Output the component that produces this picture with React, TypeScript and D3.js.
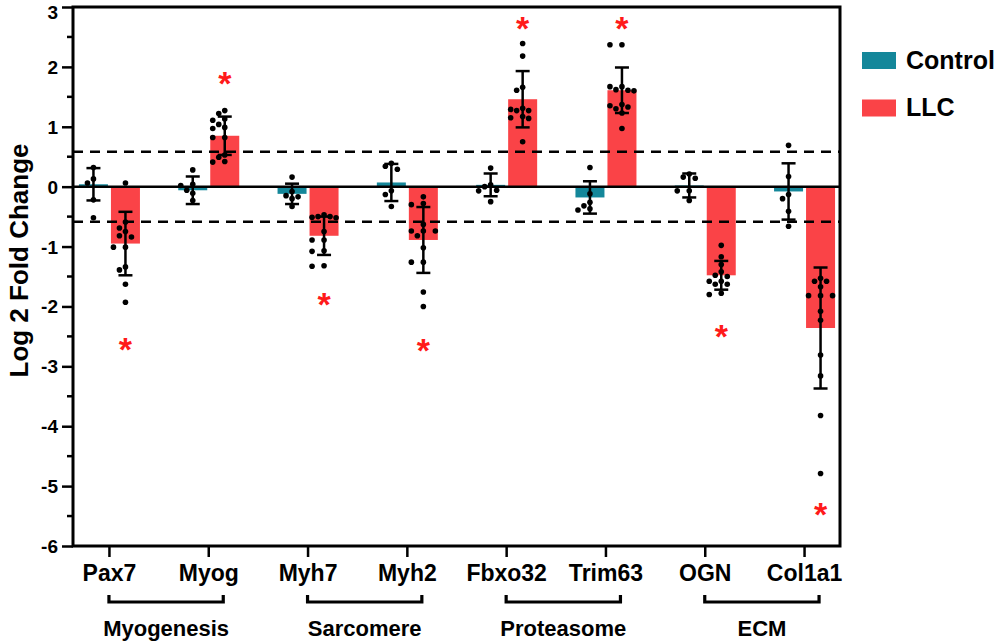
import React, { useEffect, useRef } from "react";
import * as d3 from "d3";

// genes on the x axis, with the functional group brackets under them
const genes = ["Pax7", "Myog", "Myh7", "Myh2", "Fbxo32", "Trim63", "OGN", "Col1a1"];
const groupNames = ["Myogenesis", "Sarcomere", "Proteasome", "ECM"];
const groupSpans = [[0, 1], [2, 3], [4, 5], [6, 7]];

const controlMean = [0.04, -0.06, -0.12, 0.07, 0.03, -0.18, 0.02, -0.08];
const controlSD = [0.27, 0.23, 0.17, 0.31, 0.19, 0.27, 0.2, 0.47];
const llcMean = [-0.95, 0.85, -0.82, -0.89, 1.46, 1.61, -1.48, -2.36];
const llcSD = [0.53, 0.32, 0.32, 0.55, 0.47, 0.38, 0.24, 1.01];

const controlDots = [
  [0.32, 0.13, 0.06, -0.22, -0.52],
  [0.28, 0.04, 0.02, -0.06, -0.11, -0.23],
  [0.16, -0.08, -0.15, -0.17, -0.2, -0.33],
  [0.39, 0.34, 0.29, -0.07, -0.13, -0.33],
  [0.31, 0.03, 0.0, -0.06, -0.07, -0.25],
  [0.32, -0.12, -0.26, -0.32, -0.37, -0.39],
  [0.21, 0.16, 0.14, -0.07, -0.07, -0.23],
  [0.69, 0.17, -0.13, -0.2, -0.41, -0.66],
];
const llcDots = [
  [0.06, -0.59, -0.69, -0.75, -0.82, -0.84, -1.01, -1.01, -1.34, -1.39, -1.63, -1.93],
  [1.27, 1.22, 1.13, 1.11, 1.04, 0.99, 0.97, 0.82, 0.82, 0.53, 0.49, 0.42, 0.41],
  [-0.47, -0.5, -0.5, -0.51, -0.52, -0.75, -0.89, -0.89, -1.07, -1.08, -1.32, -1.33],
  [-0.17, -0.28, -0.3, -0.63, -0.74, -0.74, -0.74, -0.82, -1.02, -1.26, -1.26, -1.76, -2.0],
  [2.39, 2.18, 1.66, 1.61, 1.31, 1.29, 1.27, 1.27, 1.17, 1.15, 1.14, 0.75],
  [2.37, 2.37, 1.67, 1.67, 1.62, 1.61, 1.6, 1.37, 1.35, 1.33, 1.3, 1.23, 0.97],
  [-0.98, -1.17, -1.3, -1.42, -1.48, -1.5, -1.58, -1.58, -1.63, -1.63, -1.78, -1.8],
  [-1.53, -1.58, -1.58, -1.67, -1.82, -1.82, -1.82, -2.08, -2.23, -2.81, -3.16, -3.82, -4.79],
];
// where the red significance stars sit (y value)
const starY = [-2.6, 1.85, -1.84, -2.61, 2.76, 2.76, -2.38, -5.35];

const seriesNames = ["Control", "LLC"];
const seriesColors = ["#14879a", "#fa4347"];
const threshold = Math.log2(1.5);
const yTicks = d3.range(-6, 4, 1);

const FONT = "Arial, 'Liberation Sans', sans-serif";

// simple beeswarm: nearest free horizontal slot for each dot
function swarm(values: number[], y: (v: number) => number) {
  const step = 6;
  const minD = 6.2;
  const slots = [0, -1, 1, -2, 2].map((k) => k * step);
  const placed: { x: number; y: number }[] = [];
  const sorted = [...values].sort((a, b) => b - a);
  sorted.forEach((v) => {
    const py = y(v);
    let best = slots[0];
    let bestGap = -Infinity;
    for (const s of slots) {
      const gap = d3.min(placed, (p) => Math.hypot(p.x - s, p.y - py)) ?? Infinity;
      if (gap >= minD) {
        best = s;
        bestGap = gap;
        break;
      }
      if (gap > bestGap) {
        bestGap = gap;
        best = s;
      }
    }
    placed.push({ x: best, y: py });
  });
  return placed;
}

const App = () => {
  const ref = useRef<SVGSVGElement | null>(null);

  useEffect(() => {
    const width = 1000;
    const height = 643;
    const left = 73;
    const right = 840;
    const top = 7;
    const bottom = 546;

    const svg = d3.select(ref.current);
    svg.selectAll("*").remove();
    svg.attr("width", width).attr("height", height);

    const y = d3.scaleLinear().domain([-6, 3]).range([bottom, top]);
    const x = d3.scalePoint<string>().domain(genes).range([left, right]).padding(0.362);
    const barW = 29;
    const offsets = [-15.5, 16.5];

    const means = [controlMean, llcMean];
    const sds = [controlSD, llcSD];
    const dots = [controlDots, llcDots];

    // bars
    seriesNames.forEach((_, si) => {
      svg
        .append("g")
        .selectAll("rect")
        .data(genes)
        .enter()
        .append("rect")
        .attr("x", (g) => (x(g) as number) + offsets[si] - barW / 2)
        .attr("width", barW)
        .attr("y", (g, i) => Math.min(y(means[si][i]), y(0)))
        .attr("height", (g, i) => Math.abs(y(means[si][i]) - y(0)))
        .attr("fill", seriesColors[si]);
    });

    // zero line and +/- 1.5 fold dashed lines
    svg
      .append("line")
      .attr("x1", left)
      .attr("x2", right)
      .attr("y1", y(0))
      .attr("y2", y(0))
      .attr("stroke", "#000")
      .attr("stroke-width", 2.5);
    [threshold, -threshold].forEach((t) => {
      svg
        .append("line")
        .attr("x1", left)
        .attr("x2", right)
        .attr("y1", y(t))
        .attr("y2", y(t))
        .attr("stroke", "#000")
        .attr("stroke-width", 2.5)
        .attr("stroke-dasharray", "10,7");
    });

    // dots + error bars
    seriesNames.forEach((_, si) => {
      genes.forEach((g, i) => {
        const cx = (x(g) as number) + offsets[si];
        const gg = svg.append("g");
        swarm(dots[si][i], y).forEach((p) => {
          gg.append("circle").attr("cx", cx + p.x).attr("cy", p.y).attr("r", 2.8).attr("fill", "#000");
        });
        const hi = y(means[si][i] + sds[si][i]);
        const lo = y(means[si][i] - sds[si][i]);
        gg.append("line").attr("x1", cx).attr("x2", cx).attr("y1", hi).attr("y2", lo)
          .attr("stroke", "#000").attr("stroke-width", 2.5);
        [hi, lo].forEach((yy) => {
          gg.append("line").attr("x1", cx - 7).attr("x2", cx + 7).attr("y1", yy).attr("y2", yy)
            .attr("stroke", "#000").attr("stroke-width", 2.5);
        });
      });
    });

    // significance stars
    svg
      .append("g")
      .selectAll("text")
      .data(genes)
      .enter()
      .append("text")
      .attr("x", (g) => (x(g) as number) + offsets[1])
      .attr("y", (g, i) => y(starY[i]) + 19)
      .attr("text-anchor", "middle")
      .attr("font-family", FONT)
      .attr("font-weight", "bold")
      .attr("font-size", 34)
      .attr("fill", "#ff1a1a")
      .text("*");

    // frame
    svg
      .append("rect")
      .attr("x", left)
      .attr("y", top)
      .attr("width", right - left)
      .attr("height", bottom - top)
      .attr("fill", "none")
      .attr("stroke", "#000")
      .attr("stroke-width", 3);

    // y axis
    const yAxis = d3
      .axisLeft(y)
      .tickValues(yTicks)
      .tickSize(11)
      .tickPadding(4)
      .tickFormat((d) => String(d));
    const ya = svg.append("g").attr("transform", `translate(${left},0)`).call(yAxis);
    ya.select(".domain").remove();
    ya.selectAll("line").attr("stroke", "#000").attr("stroke-width", 2.5);
    ya.selectAll("text")
      .attr("font-family", FONT)
      .attr("font-weight", "bold")
      .attr("font-size", 19)
      .attr("fill", "#000")
      .attr("dy", (d) => ((d as number) === 3 ? "0.6em" : "0.34em"));
    svg
      .append("g")
      .selectAll("line")
      .data(yTicks.slice(0, -1).map((t) => t + 0.5))
      .enter()
      .append("line")
      .attr("x1", left - 6)
      .attr("x2", left)
      .attr("y1", (d) => y(d))
      .attr("y2", (d) => y(d))
      .attr("stroke", "#000")
      .attr("stroke-width", 2.5);

    svg
      .append("text")
      .attr("transform", `translate(28,${(top + bottom) / 2 - 16}) rotate(-90)`)
      .attr("text-anchor", "middle")
      .attr("font-family", FONT)
      .attr("font-weight", "bold")
      .attr("font-size", 26)
      .text("Log 2 Fold Change");

    // x axis
    const xAxis = d3.axisBottom(x).tickSize(11).tickPadding(8);
    const xa = svg.append("g").attr("transform", `translate(0,${bottom})`).call(xAxis);
    xa.select(".domain").remove();
    xa.selectAll("line").attr("stroke", "#000").attr("stroke-width", 2.5);
    xa.selectAll("text")
      .attr("font-family", FONT)
      .attr("font-weight", "bold")
      .attr("font-size", 23)
      .attr("fill", "#000");

    // group brackets
    groupNames.forEach((name, gi) => {
      const x1 = x(genes[groupSpans[gi][0]]) as number;
      const x2 = (x(genes[groupSpans[gi][1]]) as number) + 15;
      svg
        .append("path")
        .attr("d", `M${x1},595V602H${x2}V595`)
        .attr("fill", "none")
        .attr("stroke", "#000")
        .attr("stroke-width", 3.2);
      svg
        .append("text")
        .attr("x", (x1 + x2) / 2)
        .attr("y", 636)
        .attr("text-anchor", "middle")
        .attr("font-family", FONT)
        .attr("font-weight", "bold")
        .attr("font-size", 22)
        .text(name);
    });

    // legend
    seriesNames.forEach((name, si) => {
      const ly = 52 + si * 47.5;
      svg.append("rect").attr("x", 862).attr("y", ly).attr("width", 34).attr("height", 17)
        .attr("fill", seriesColors[si]);
      svg.append("text").attr("x", 906).attr("y", ly + 16.5)
        .attr("font-family", FONT).attr("font-weight", "bold").attr("font-size", 25)
        .text(name);
    });
  }, []);

  return <svg ref={ref} style={{ position: "absolute", left: 0, top: 0, display: "block" }} />;
};

export default App;
